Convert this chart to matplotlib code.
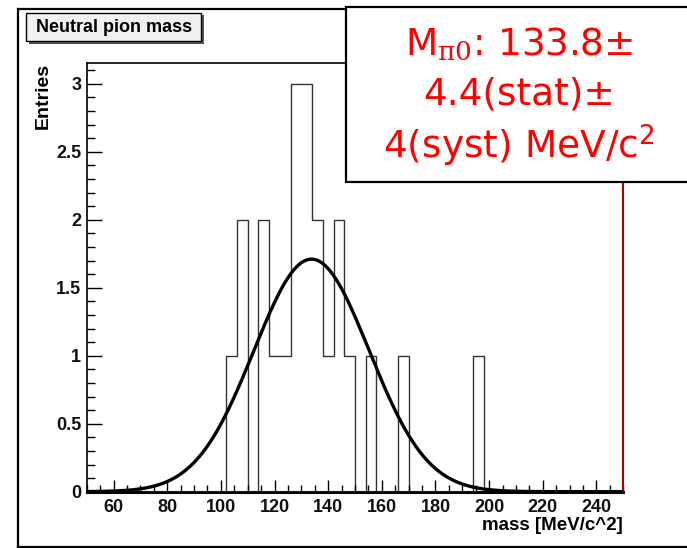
import numpy as np
import matplotlib.pyplot as plt
from matplotlib.patches import Rectangle
from matplotlib.lines import Line2D
from matplotlib.ticker import MultipleLocator

# histogram: lower edge of the filled bins (MeV/c^2) and their entries
bin_width = 4
x_min, x_max = 50, 250
mass_bins = [102, 106, 114, 118, 122, 126, 130, 134, 138, 142, 146, 154, 166, 194]
entries = [1, 2, 2, 1, 1, 3, 3, 2, 1, 2, 1, 1, 1, 1]

# gaussian fit result
fit_const = 1.71
fit_mean = 133.8
fit_sigma = 21.5

edges = np.arange(x_min, x_max + bin_width, bin_width)
counts = np.zeros(len(edges) - 1)
for b, n in zip(mass_bins, entries):
    counts[(b - x_min) // bin_width] = n

plt.rcParams['mathtext.fontset'] = 'dejavuserif'

W, H = 687, 548
fig = plt.figure(figsize=(W / 100, H / 100), dpi=100)
narrow = ['Liberation Sans', 'DejaVu Sans']

def px(x0, x1, y0, y1):
    # figure fraction from pixel box (top-left origin)
    return [x0 / W, 1 - y1 / H, (x1 - x0) / W, (y1 - y0) / H]

ax = fig.add_axes(px(86.7, 623.3, 63.3, 491.7))
ax.stairs(counts, edges, color='#333333', lw=1.0)
xs = np.linspace(x_min, x_max, 600)
ax.plot(xs, fit_const * np.exp(-0.5 * ((xs - fit_mean) / fit_sigma) ** 2),
        color='black', lw=2.4, zorder=4)
ax.axhline(0, color='red', lw=1.0, zorder=3)

ax.set_xlim(x_min, x_max)
ax.set_ylim(0, 3.15)
ax.xaxis.set_major_locator(MultipleLocator(20))
ax.xaxis.set_minor_locator(MultipleLocator(5))
ax.yaxis.set_major_locator(MultipleLocator(0.5))
ax.yaxis.set_minor_locator(MultipleLocator(0.1))
ax.set_xticks(range(60, 241, 20))
ax.tick_params(axis='x', which='major', direction='in', length=9, width=1, pad=5)
ax.tick_params(axis='x', which='minor', direction='in', length=5, width=1)
ax.tick_params(axis='y', which='major', direction='in', length=11, width=1, pad=4)
ax.tick_params(axis='y', which='minor', direction='in', length=6, width=1)
ax.set_yticks([0, 0.5, 1, 1.5, 2, 2.5, 3])
ax.set_yticklabels(['0', '0.5', '1', '1.5', '2', '2.5', '3'])
for lab in ax.get_xticklabels() + ax.get_yticklabels():
    lab.set_family(narrow)
    lab.set_fontweight('bold')
    lab.set_fontsize(13)
    lab.set_color('#111111')
ax.spines['bottom'].set_linewidth(2.2)
ax.spines['left'].set_linewidth(1.2)
ax.spines['top'].set_linewidth(1.2)
ax.spines['right'].set_color('#b00000')
ax.spines['right'].set_linewidth(1.5)

fig.text(623 / W, 1 - 526 / H, 'mass [MeV/c^2]', ha='right', va='center',
         family=narrow, fontweight='bold', fontsize=13.5)
fig.text(43 / W, 1 - 63 / H, 'Entries', ha='center', va='top', rotation=90,
         family=narrow, fontweight='bold', fontsize=14)

# canvas border
for xd, yd in [([18, 18], [9, 547]), ([18, 700], [9, 9]), ([18, 700], [547, 547])]:
    fig.add_artist(Line2D([v / W for v in xd], [1 - v / H for v in yd],
                          color='black', lw=1.6))

# title box with shadow
fig.add_artist(Rectangle((29 / W, 1 - 44 / H), 175 / W, 29 / H, facecolor='#555555',
                         edgecolor='none', transform=fig.transFigure))
fig.add_artist(Rectangle((26 / W, 1 - 41 / H), 175 / W, 28 / H, facecolor='#f0f0f0',
                         edgecolor='black', lw=1.0, transform=fig.transFigure))
fig.text(114 / W, 1 - 27.5 / H, 'Neutral pion mass', ha='center', va='center',
         family=narrow, fontweight='bold', fontsize=13)

# result box
fig.add_artist(Rectangle((346 / W, 1 - 182 / H), 360 / W, 175 / H, facecolor='white',
                         edgecolor='black', lw=1.6, transform=fig.transFigure, zorder=5))
lines = [r'M$_{\mathrm{π0}}$: 133.8±', '4.4(stat)±', r'4(syst) MeV/c$^{\mathsf{2}}$']
for t, y in zip(lines, [45, 95, 145]):
    fig.text(519 / W, 1 - y / H, t, ha='center', va='center', color='#ff0000',
             fontsize=27, zorder=6)

fig.savefig('out.png', dpi=100)
